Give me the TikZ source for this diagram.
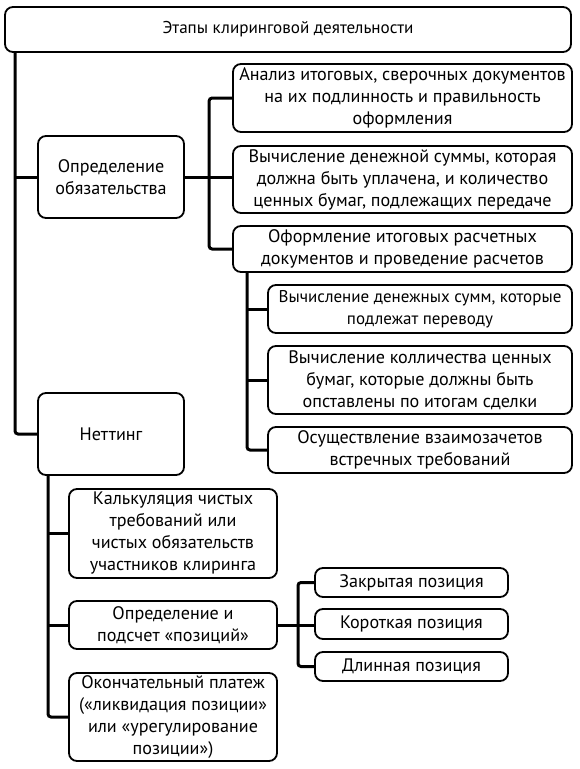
\documentclass[tikz,border=0pt]{standalone}
\usepackage{fontspec}
\setmainfont{PT Sans}
\begin{document}
\begin{tikzpicture}[x=1pt,y=-1pt,
  box/.style={draw, line width=1.8pt, rounded corners=8pt, align=center, inner sep=0pt,
    font=\fontsize{18.1}{22}\selectfont},
  conn/.style={line width=3pt, rounded corners=3pt}]
\useasboundingbox (0,0) rectangle (579,769);
% title
\node[box, minimum width=566pt, minimum height=45pt, font=\fontsize{17.1}{20}\selectfont] (title) at (288,29.5) {Этапы клиринговой деятельности};
% level 1
\node[box, minimum width=146pt, minimum height=82pt] (obl) at (111,177) {Определение\\обязательства};
\node[box, minimum width=146pt, minimum height=82pt] (nett) at (111,434) {Неттинг};
% right branch
\node[box, minimum width=339pt, minimum height=68pt] (A) at (402.5,98) {Анализ итоговых, сверочных документов\\на их подлинность и правильность\\оформления};
\node[box, minimum width=339pt, minimum height=67pt] (B) at (402.5,179.5) {Вычисление денежной суммы, которая\\должна быть уплачена, и количество\\ценных бумаг, подлежащих передаче};
\node[box, minimum width=339pt, minimum height=46pt] (C) at (402.5,249) {Оформление итоговых расчетных\\документов и проведение расчетов};
\node[box, minimum width=304pt, minimum height=48pt, font=\fontsize{17}{22}\selectfont] (D) at (420,309) {Вычисление денежных сумм, которые\\подлежат переводу};
\node[box, minimum width=304pt, minimum height=68pt] (E) at (420,380) {Вычисление колличества ценных\\бумаг, которые должны быть\\опставлены по итогам сделки};
\node[box, minimum width=304pt, minimum height=46pt] (F) at (420,450) {Осуществление взаимозачетов\\встречных требований};
% netting branch
\node[box, minimum width=208pt, minimum height=89pt] (G) at (173,533.5) {Калькуляция чистых\\требований или\\чистых обязательств\\участников клиринга};
\node[box, minimum width=208pt, minimum height=48pt] (H) at (173,625) {Определение и\\подсчет «позиций»};
\node[box, minimum width=208pt, minimum height=88pt] (I) at (173,717) {Окончательный платеж\\(«ликвидация позиции»\\или «урегулирование\\позиции»)};
\node[box, minimum width=193pt, minimum height=29pt] (Zk) at (411.5,582.5) {Закрытая позиция};
\node[box, minimum width=193pt, minimum height=30pt] (Kr) at (411.5,624) {Короткая позиция};
\node[box, minimum width=193pt, minimum height=29pt] (Dl) at (411.5,666.5) {Длинная позиция};
% connectors
\coordinate (t0) at (15,52);
\draw[conn] (t0) |- (nett.west);
\draw[conn] (t0 |- obl.west) -- (obl.west);
\draw[conn] (obl.east) -- (B.west |- obl.east);
\draw[conn] (A.west) -- ++(-23,0) |- (C.west);
\coordinate (c0) at (247,272);
\draw[conn] (c0) |- (F.west);
\draw[conn] (c0 |- D.west) -- (D.west);
\draw[conn] (c0 |- E.west) -- (E.west);
\coordinate (n0) at (48,475);
\draw[conn] (n0) |- (I.west);
\draw[conn] (n0 |- G.west) -- (G.west);
\draw[conn] (n0 |- H.west) -- (H.west);
\coordinate (h0) at (298,625);
\draw[conn] (H.east) -- (Kr.west |- H.east);
\draw[conn] (Zk.west) -- (h0 |- Zk.west) |- (Dl.west);
\end{tikzpicture}
\end{document}
